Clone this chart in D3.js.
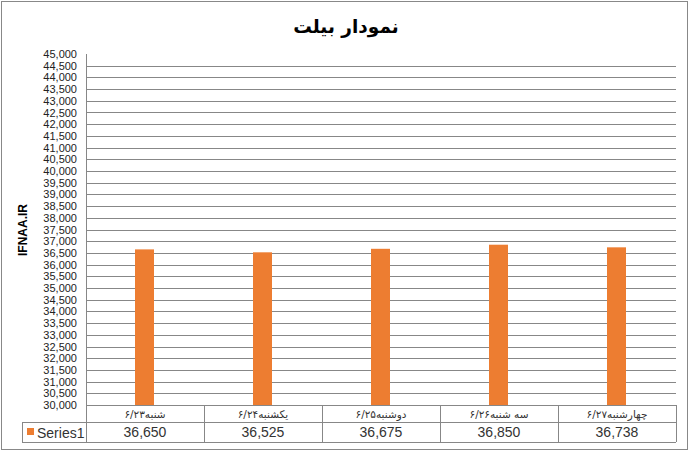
<!DOCTYPE html>
<html>
<head>
<meta charset="utf-8">
<script src="https://cdn.jsdelivr.net/npm/d3@7"></script>
<style>
html,body{margin:0;padding:0;background:#fff;}
svg{display:block;font-family:"Liberation Sans",Arial,"DejaVu Sans",sans-serif;}
</style>
</head>
<body>
<svg id="chart" width="690" height="451"></svg>
<script>
const title = "نمودار بیلت";
const yAxisTitle = "IFNAA.IR";
const seriesName = "Series1";
const categories = ["شنبه۶/۲۳", "یکشنبه۶/۲۴", "دوشنبه۶/۲۵", "سه شنبه۶/۲۶", "چهارشنبه۶/۲۷"];
const values = [36650, 36525, 36675, 36850, 36738];
const valueLabels = ["36,650", "36,525", "36,675", "36,850", "36,738"];
const yMin = 30000, yMax = 45000, yStep = 500;

(function(){
const svg = d3.select("#chart");
const pL = 86, pR = 676, pT = 54, pB = 405;
const catRowB = 422, valRowB = 442, legendL = 22;
const gridColor = "#878787";
const txt = "#333";

svg.append("rect").attr("x",1.5).attr("y",1.5).attr("width",686).attr("height",448)
  .attr("fill","#fff").attr("stroke","#888").attr("stroke-width",1);

svg.append("text").attr("x",346).attr("y",33).attr("text-anchor","middle")
  .attr("font-family","'DejaVu Sans',sans-serif").attr("font-weight","bold")
  .attr("font-size",18.5).attr("fill","#000").text(title);

const x = d3.scaleBand().domain(categories).range([pL,pR]).paddingInner(0).paddingOuter(0);
const y = d3.scaleLinear().domain([yMin,yMax]).range([pB,pT]);
const ticks = d3.range(yMin, yMax + 1, yStep);

svg.append("g").selectAll("line").data(ticks.filter(t => t > yMin && t < yMax)).join("line")
  .attr("x1",pL).attr("x2",pR)
  .attr("y1",d => Math.round(y(d))+0.5).attr("y2",d => Math.round(y(d))+0.5)
  .attr("stroke",gridColor).attr("stroke-width",1);

const fmt = d3.format(",");
svg.append("g").selectAll("text").data(ticks).join("text")
  .attr("x",77).attr("y",d => y(d)+4).attr("text-anchor","end")
  .attr("font-size",11).attr("fill","#222").text(d => fmt(d));

svg.append("text").attr("transform","translate(27,230) rotate(-90)")
  .attr("text-anchor","middle").attr("font-weight","bold").attr("font-size",12)
  .attr("fill","#000").text(yAxisTitle);

const bw = 19;
svg.append("g").selectAll("rect").data(values).join("rect")
  .attr("x",(d,i) => x(categories[i]) + x.bandwidth()/2 - bw/2 - 0.5)
  .attr("y",d => y(d)).attr("width",bw).attr("height",d => y(yMin)-y(d))
  .attr("fill","#ED7D31");

const tg = svg.append("g").attr("stroke",gridColor).attr("stroke-width",1).attr("fill","none");
tg.append("line").attr("x1",pL+0.5).attr("x2",pL+0.5).attr("y1",pT).attr("y2",valRowB);
tg.append("line").attr("x1",pL).attr("x2",pR).attr("y1",pB+0.5).attr("y2",pB+0.5);
tg.append("line").attr("x1",legendL).attr("x2",pR).attr("y1",catRowB+0.5).attr("y2",catRowB+0.5);
tg.append("line").attr("x1",legendL).attr("x2",pR).attr("y1",valRowB+0.5).attr("y2",valRowB+0.5);
tg.append("line").attr("x1",legendL+0.5).attr("x2",legendL+0.5).attr("y1",catRowB).attr("y2",valRowB);
categories.forEach((c,i) => {
  const xe = Math.round(x(c) + x.bandwidth()) + 0.5;
  tg.append("line").attr("x1",xe).attr("x2",xe).attr("y1",pB).attr("y2",valRowB);
});

svg.append("g").selectAll("text").data(categories).join("text")
  .attr("x",d => x(d)+x.bandwidth()/2).attr("y",pB+13)
  .attr("text-anchor","middle").attr("direction","rtl")
  .attr("font-family","'DejaVu Sans',sans-serif").attr("font-size",10.5).attr("fill",txt)
  .text(d => d);

svg.append("g").selectAll("text").data(valueLabels).join("text")
  .attr("x",(d,i) => x(categories[i])+x.bandwidth()/2).attr("y",catRowB+15)
  .attr("text-anchor","middle").attr("font-size",14).attr("fill",txt)
  .text(d => d);

svg.append("rect").attr("x",27).attr("y",428).attr("width",7).attr("height",7).attr("fill","#ED7D31");
svg.append("text").attr("x",37).attr("y",437.5).attr("font-size",14).attr("fill",txt).text(seriesName);
})();
</script>
</body>
</html>
